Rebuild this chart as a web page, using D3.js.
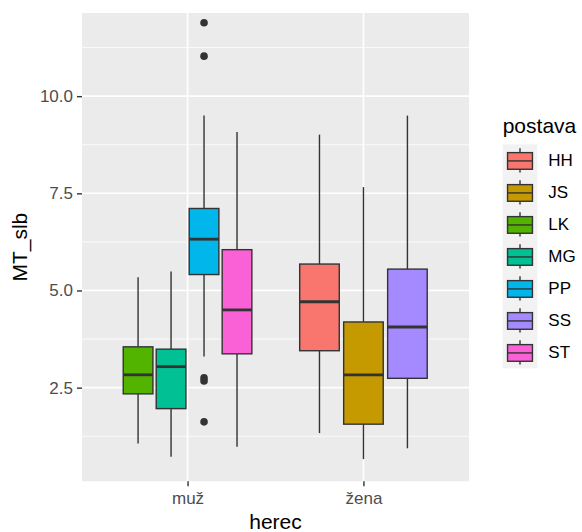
<!DOCTYPE html>
<html>
<head>
<meta charset="utf-8">
<script src="https://cdn.jsdelivr.net/npm/d3@7"></script>
<style>
  html, body { margin: 0; padding: 0; background: #fff; }
  svg { display: block; }
  text { font-family: "Liberation Sans", Arial, sans-serif; }
</style>
</head>
<body>
<svg id="chart" width="582" height="532"></svg>
<script>
// ---- data ----
const herecCategories = ["muž", "žena"];
const postava = ["HH", "JS", "LK", "MG", "PP", "SS", "ST"];
const postavaHerec = ["žena", "žena", "muž", "muž", "muž", "žena", "muž"];
const whiskerLow = [1.33, 0.66, 1.06, 0.72, 3.30, 0.94, 0.98];
const q1Values = [3.45, 1.56, 2.34, 1.96, 5.41, 2.74, 3.37];
const medianValues = [4.71, 2.83, 2.83, 3.04, 6.32, 4.06, 4.50];
const q3Values = [5.68, 4.19, 3.55, 3.49, 7.11, 5.55, 6.05];
const whiskerHigh = [9.01, 7.66, 5.34, 5.49, 9.50, 9.50, 9.08];
const outlierPostava = ["PP", "PP", "PP", "PP", "PP"];
const outlierValues = [11.89, 11.03, 2.75, 2.67, 1.62];
const yTicks = [2.5, 5.0, 7.5, 10.0];
const yMinorTicks = [1.25, 3.75, 6.25, 8.75, 11.25];
const colors = ["#F8766D", "#C49A00", "#53B400", "#00C094", "#00B6EB", "#A58AFF", "#FB61D7"];

// ---- layout ----
const svg = d3.select("#chart");
const panel = { left: 82, right: 469, top: 13, bottom: 481.3 };

const x = d3.scalePoint().domain(herecCategories).range([panel.left, panel.right]).padding(0.6);
const y = d3.scaleLinear().domain([0.09, 12.14]).range([panel.bottom, panel.top]);
const color = d3.scaleOrdinal().domain(postava).range(colors);

// panel background
svg.append("rect")
  .attr("x", panel.left).attr("y", panel.top)
  .attr("width", panel.right - panel.left).attr("height", panel.bottom - panel.top)
  .attr("fill", "#EBEBEB");

// grid
const grid = svg.append("g");
grid.selectAll(".minor").data(yMinorTicks).enter().append("line")
  .attr("x1", panel.left).attr("x2", panel.right)
  .attr("y1", d => y(d)).attr("y2", d => y(d))
  .attr("stroke", "#fff").attr("stroke-width", 0.8);
grid.selectAll(".major").data(yTicks).enter().append("line")
  .attr("x1", panel.left).attr("x2", panel.right)
  .attr("y1", d => y(d)).attr("y2", d => y(d))
  .attr("stroke", "#fff").attr("stroke-width", 1.6);
grid.selectAll(".vmajor").data(herecCategories).enter().append("line")
  .attr("x1", d => x(d)).attr("x2", d => x(d))
  .attr("y1", panel.top).attr("y2", panel.bottom)
  .attr("stroke", "#fff").attr("stroke-width", 1.6);

// box records
const boxes = postava.map((p, i) => ({
  p, herec: postavaHerec[i], lo: whiskerLow[i], q1: q1Values[i], med: medianValues[i],
  q3: q3Values[i], hi: whiskerHigh[i]
}));
const step = x.step();
const W = 0.75 * step;
boxes.forEach(b => {
  const group = boxes.filter(o => o.herec === b.herec);
  const n = group.length, idx = group.indexOf(b);
  const slot = W / n;
  b.cx = x(b.herec) - W / 2 + slot * (idx + 0.5);
  b.w = slot * 0.9;
});

const stroke = "#333333";
const bg = svg.append("g");
boxes.forEach(b => {
  const g = bg.append("g");
  g.append("line").attr("x1", b.cx).attr("x2", b.cx).attr("y1", y(b.hi)).attr("y2", y(b.q3))
    .attr("stroke", stroke).attr("stroke-width", 1.4);
  g.append("line").attr("x1", b.cx).attr("x2", b.cx).attr("y1", y(b.q1)).attr("y2", y(b.lo))
    .attr("stroke", stroke).attr("stroke-width", 1.4);
  g.append("rect").attr("x", b.cx - b.w / 2).attr("y", y(b.q3))
    .attr("width", b.w).attr("height", y(b.q1) - y(b.q3))
    .attr("fill", color(b.p)).attr("stroke", stroke).attr("stroke-width", 1.4);
  g.append("line").attr("x1", b.cx - b.w / 2).attr("x2", b.cx + b.w / 2)
    .attr("y1", y(b.med)).attr("y2", y(b.med))
    .attr("stroke", stroke).attr("stroke-width", 2.8);
});

// outliers
svg.append("g").selectAll("circle").data(outlierValues).enter().append("circle")
  .attr("cx", (d, i) => boxes.find(b => b.p === outlierPostava[i]).cx)
  .attr("cy", d => y(d)).attr("r", 3.8).attr("fill", stroke);

// axes
const yAxis = svg.append("g").attr("transform", `translate(${panel.left},0)`)
  .call(d3.axisLeft(y).tickValues(yTicks).tickFormat(d3.format(".1f")).tickSize(5).tickPadding(4));
yAxis.select(".domain").remove();
yAxis.selectAll(".tick line").attr("stroke", "#333").attr("stroke-width", 1.4);
yAxis.selectAll(".tick text").attr("fill", "#4D4D4D").style("font-size", "17px")
  .style("font-family", "'Liberation Sans', Arial, sans-serif");

const xAxis = svg.append("g").attr("transform", `translate(0,${panel.bottom})`)
  .call(d3.axisBottom(x).tickSize(5).tickPadding(6));
xAxis.select(".domain").remove();
xAxis.selectAll(".tick line").attr("stroke", "#333").attr("stroke-width", 1.4);
xAxis.selectAll(".tick text").attr("fill", "#4D4D4D").style("font-size", "17px")
  .style("font-family", "'Liberation Sans', Arial, sans-serif");

// axis titles
svg.append("text").attr("x", (panel.left + panel.right) / 2).attr("y", 528.5)
  .attr("text-anchor", "middle").style("font-size", "21px").attr("fill", "#000").text("herec");
svg.append("text").attr("transform", `translate(26.5,${(panel.top + panel.bottom) / 2}) rotate(-90)`)
  .attr("text-anchor", "middle").style("font-size", "21px").attr("fill", "#000").text("MT_slb");

// legend
const lg = svg.append("g");
const keyX = 502.7, keyY = 144.3, keyW = 34.6, keyH = 32;
lg.append("text").attr("x", keyX).attr("y", 133.3).style("font-size", "21px").attr("fill", "#000").text("postava");
lg.append("rect").attr("x", keyX).attr("y", keyY).attr("width", keyW).attr("height", keyH * postava.length)
  .attr("fill", "#F2F2F2");
postava.forEach((p, i) => {
  const top = keyY + i * keyH;
  const cx = keyX + keyW / 2;
  const g = lg.append("g");
  g.append("line").attr("x1", cx).attr("x2", cx).attr("y1", top + keyH * 0.12).attr("y2", top + keyH * 0.88)
    .attr("stroke", stroke).attr("stroke-width", 1.4);
  g.append("rect").attr("x", keyX + keyW * 0.14).attr("y", top + keyH * 0.26)
    .attr("width", keyW * 0.72).attr("height", keyH * 0.52)
    .attr("fill", color(p)).attr("stroke", stroke).attr("stroke-width", 1.4);
  g.append("line").attr("x1", keyX + keyW * 0.14).attr("x2", keyX + keyW * 0.86)
    .attr("y1", top + keyH * 0.52).attr("y2", top + keyH * 0.52)
    .attr("stroke", stroke).attr("stroke-width", 1.4);
  g.append("text").attr("x", 548.3).attr("y", top + keyH / 2).attr("dy", "0.36em")
    .style("font-size", "17px").attr("fill", "#000").text(p);
});
</script>
</body>
</html>
